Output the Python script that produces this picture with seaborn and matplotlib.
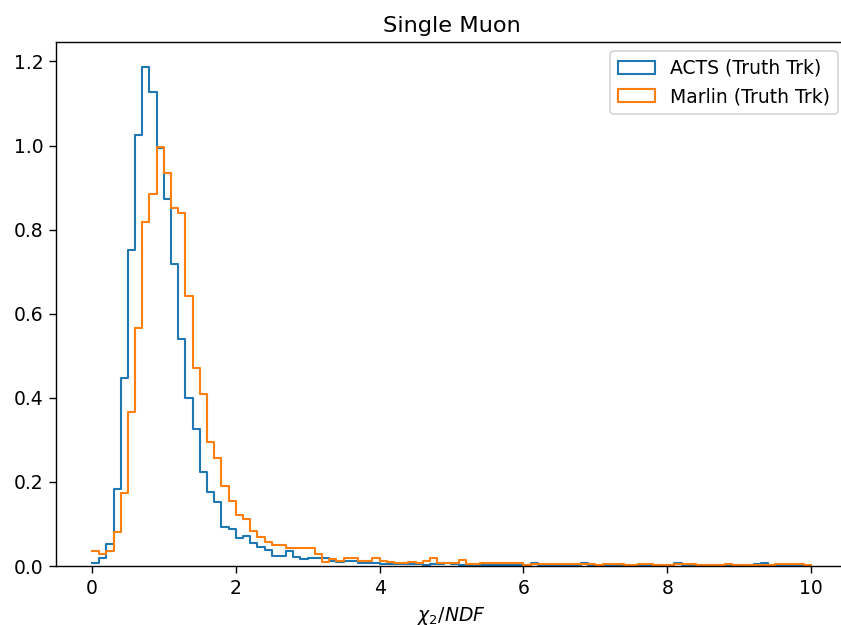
import numpy as np
import pandas as pd
import matplotlib
matplotlib.use("Agg")
import matplotlib.pyplot as plt
from matplotlib.patches import Patch
import seaborn as sns

# Bin edges: 100 bins from 0 to 10
bin_edges = np.linspace(0, 10, 101)
bin_centers = 0.5 * (bin_edges[:-1] + bin_edges[1:])

# Normalised bin heights
acts_heights = [
    0.008, 0.018, 0.052, 0.182, 0.446, 0.751, 1.024, 1.187, 1.127, 0.995,
    0.874, 0.718, 0.539, 0.400, 0.327, 0.224, 0.175, 0.153, 0.093, 0.087,
    0.066, 0.071, 0.054, 0.046, 0.038, 0.024, 0.024, 0.036, 0.022, 0.017,
    0.020, 0.019, 0.019, 0.013, 0.009, 0.011, 0.011, 0.006, 0.006, 0.008,
    0.005, 0.004, 0.005, 0.005, 0.004, 0.004, 0.003, 0.005, 0.004, 0.008,
    0.004, 0.003, 0.003, 0.003, 0.002, 0.003, 0.002, 0.003, 0.002, 0.003,
    0.002, 0.008, 0.002, 0.002, 0.001, 0.002, 0.001, 0.002, 0.008, 0.002,
    0.001, 0.002, 0.001, 0.002, 0.002, 0.001, 0.001, 0.002, 0.002, 0.001,
    0.002, 0.007, 0.002, 0.002, 0.002, 0.002, 0.002, 0.002, 0.001, 0.002,
    0.001, 0.002, 0.004, 0.008, 0.001, 0.002, 0.001, 0.002, 0.001, 0.001,
]
marlin_heights = [
    0.036, 0.028, 0.036, 0.082, 0.173, 0.367, 0.565, 0.818, 0.884, 0.997,
    0.935, 0.852, 0.840, 0.642, 0.472, 0.409, 0.295, 0.256, 0.190, 0.155,
    0.121, 0.111, 0.084, 0.070, 0.058, 0.050, 0.050, 0.042, 0.042, 0.042,
    0.042, 0.028, 0.010, 0.016, 0.011, 0.018, 0.018, 0.011, 0.011, 0.018,
    0.013, 0.009, 0.006, 0.006, 0.009, 0.006, 0.011, 0.018, 0.006, 0.008,
    0.008, 0.014, 0.004, 0.004, 0.007, 0.007, 0.007, 0.007, 0.007, 0.007,
    0.002, 0.004, 0.004, 0.004, 0.004, 0.004, 0.004, 0.004, 0.004, 0.004,
    0.003, 0.004, 0.004, 0.004, 0.003, 0.002, 0.004, 0.004, 0.002, 0.002,
    0.002, 0.004, 0.004, 0.004, 0.002, 0.002, 0.002, 0.002, 0.004, 0.002,
    0.002, 0.002, 0.002, 0.002, 0.002, 0.004, 0.004, 0.004, 0.004, 0.002,
]

series_labels = ["ACTS (Truth Trk)", "Marlin (Truth Trk)"]
title_text = "Single Muon"
xlabel_text = r"$\chi_2/NDF$"

df = pd.DataFrame({
    "x": np.concatenate([bin_centers, bin_centers]),
    "w": np.concatenate([acts_heights, marlin_heights]),
    "series": [series_labels[0]] * len(bin_centers) + [series_labels[1]] * len(bin_centers),
})

colors = ["#1f77b4", "#ff7f0e"]

fs = 10.8
plt.rcParams.update({
    "font.size": fs,
    "xtick.labelsize": fs,
    "ytick.labelsize": fs,
    "legend.fontsize": fs,
    "axes.labelsize": fs,
    "axes.titlesize": fs * 1.2,
    "xtick.major.size": 3.8,
    "ytick.major.size": 3.8,
})

fig = plt.figure(figsize=(841 / 125, 625 / 125), dpi=125)
ax = fig.add_axes([56 / 841, 59 / 625, 791 / 841, 524 / 625])

for lab, col in zip(series_labels, colors):
    sub = df[df["series"] == lab]
    sns.histplot(data=sub, x="x", weights="w", binwidth=0.1, binrange=(0, 10),
                 element="step", fill=False, color=col, linewidth=1.2, ax=ax)

ax.set_xlim(-0.5, 10.5)
ax.set_ylim(0, 1.187 * 1.05)
ax.set_xlabel(xlabel_text)
ax.set_ylabel("")
ax.set_title(title_text)

handles = [Patch(facecolor="none", edgecolor=c, linewidth=1.2) for c in colors]
ax.legend(handles, series_labels, loc="upper right")

fig.savefig("out.png", dpi=125)
